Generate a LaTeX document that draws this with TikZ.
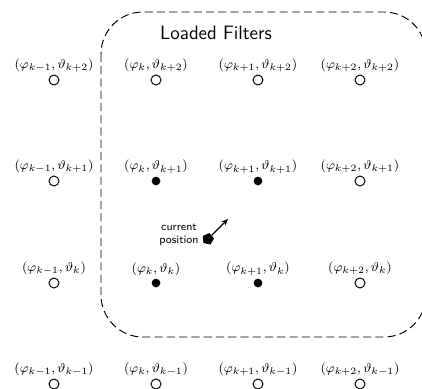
\documentclass[tikz,border=0pt]{standalone}
\usepackage{amsmath}
\usepackage{amssymb}
\usetikzlibrary{shapes.geometric,arrows.meta}

\tikzset{
  open filter/.style={circle, draw, line width=0.6pt, fill=white, inner sep=0pt, minimum size=6.2pt},
  loaded filter/.style={circle, fill=black, inner sep=0pt, minimum size=5.4pt},
  filter label/.style={inner sep=0.75pt, label distance=0.8pt, font=\fontsize{8.4}{10}\selectfont},
  loaded region/.style={draw, dash pattern=on 5pt off 2.6pt, line width=0.6pt, rounded corners=26pt},
}

\begin{document}
\begin{tikzpicture}[x=0.62pt,y=0.62pt,yscale=-1,xscale=1]
    \clip (0,0) rectangle (422,388);

    %Shape: Rounded Rectangle
    \draw [loaded region] (101,12) rectangle (426,337);
    % Text Node
    \node [font=\sffamily\large, inner sep=0pt] (title) at (216,33) {Loaded Filters};

    %Filter row: k+2
    \node [open filter, label={[filter label]above:$(\varphi_{k-1},\vartheta_{k+2})$}] (f14) at (54,80) {};
    \node [open filter, label={[filter label]above:$(\varphi_{k},\vartheta_{k+2})$}] (f24) at (156,80) {};
    \node [open filter, label={[filter label]above:$(\varphi_{k+1},\vartheta_{k+2})$}] (f34) at (258,80) {};
    \node [open filter, label={[filter label]above:$(\varphi_{k+2},\vartheta_{k+2})$}] (f44) at (360,80) {};
    %Filter row: k+1
    \node [open filter, label={[filter label]above:$(\varphi_{k-1},\vartheta_{k+1})$}] (f13) at (54,181) {};
    \node [loaded filter, label={[filter label]above:$(\varphi_{k},\vartheta_{k+1})$}] (f23) at (156,181) {};
    \node [loaded filter, label={[filter label]above:$(\varphi_{k+1},\vartheta_{k+1})$}] (f33) at (258,181) {};
    \node [open filter, label={[filter label]above:$(\varphi_{k+2},\vartheta_{k+1})$}] (f43) at (360,181) {};
    %Filter row: k
    \node [open filter, label={[filter label]above:$(\varphi_{k-1},\vartheta_{k})$}] (f12) at (54,283) {};
    \node [loaded filter, label={[filter label]above:$(\varphi_{k},\vartheta_{k})$}] (f22) at (156,283) {};
    \node [loaded filter, label={[filter label]above:$(\varphi_{k+1},\vartheta_{k})$}] (f32) at (258,283) {};
    \node [open filter, label={[filter label]above:$(\varphi_{k+2},\vartheta_{k})$}] (f42) at (360,283) {};
    %Filter row: k-1
    \node [open filter, label={[filter label]above:$(\varphi_{k-1},\vartheta_{k-1})$}] (f11) at (54,384) {};
    \node [open filter, label={[filter label]above:$(\varphi_{k},\vartheta_{k-1})$}] (f21) at (156,384) {};
    \node [open filter, label={[filter label]above:$(\varphi_{k+1},\vartheta_{k-1})$}] (f31) at (258,384) {};
    \node [open filter, label={[filter label]above:$(\varphi_{k+2},\vartheta_{k-1})$}] (f41) at (360,384) {};

    %Shape: Pentagon
    \node [regular polygon, regular polygon sides=5, fill=black, inner sep=0pt, minimum size=7.5pt, rotate=-12] (cur) at (208,239) {};
    % Text Node
    \node [font=\sffamily\scriptsize, align=center, inner sep=0pt, anchor=east] (note) at (199,235) {current\\position};
    %Straight Lines
    \coordinate (heading) at (228,219);
    \draw [line width=0.8pt, -{Stealth[length=4pt,width=3.5pt]}] (cur) -- (heading);

\end{tikzpicture}
\end{document}
